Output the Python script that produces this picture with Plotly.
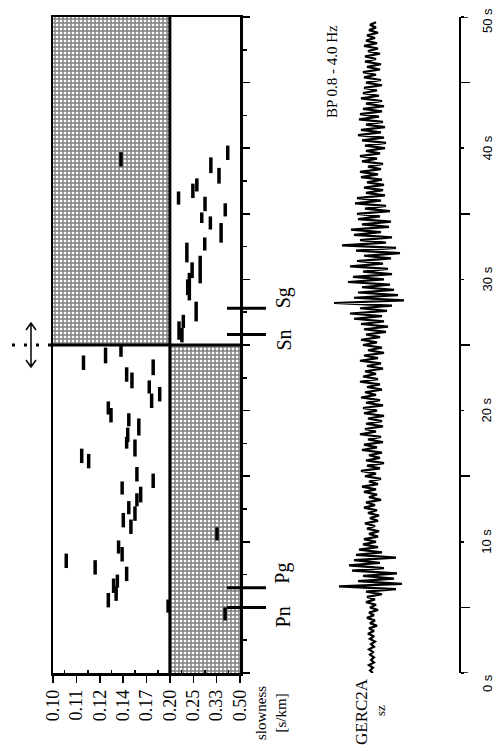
import plotly.graph_objects as go

OX, OY = 0, 0
FW, FH = 496, 751


def px(x):
    return (x - OX) / FW


def py(y):
    return 1 - (y - OY) / FH


# ---------------- data ----------------
# slowness axis: ticks at apparent velocities 10 ... 2 km/s
tick_velocity = [10, 9, 8, 7, 6, 5, 4, 3, 2]
tick_labels = ["0.10", "0.11", "0.12", "0.14", "0.17", "0.20", "0.25", "0.33", "0.50"]
minor_velocity = [9.5, 8.5, 7.5, 6.5, 5.5, 4.5, 3.5, 2.5]

# shaded (masked) windows: slowness range x time range
shade_s_lo = [0.10, 0.20]
shade_s_hi = [0.20, 0.50]
shade_t_lo = [25.0, 0.0]
shade_t_hi = [50.0, 25.0]
split_slowness = 0.20
split_time = 25.0

# detections: slowness (s/km), start time (s), end time (s)
pick_s = [0.115, 0.129, 0.141, 0.146, 0.151, 0.175, 0.170, 0.184, 0.173, 0.131,
          0.133, 0.148, 0.158, 0.147, 0.146, 0.154, 0.114, 0.118, 0.156, 0.175,
          0.142, 0.160, 0.156, 0.148, 0.154, 0.143, 0.150, 0.139, 0.142, 0.106,
          0.122, 0.146, 0.138, 0.135, 0.137, 0.131,
          0.335, 0.197, 0.379, 0.141,
          0.396, 0.308, 0.345, 0.260, 0.249, 0.216, 0.286, 0.380, 0.275, 0.306,
          0.356, 0.285, 0.234, 0.247, 0.270, 0.240, 0.236, 0.258, 0.226, 0.217, 0.223]
pick_t0 = [23.1, 23.6, 24.1, 22.2, 21.7, 22.7, 21.3, 20.7, 20.2, 19.7,
           19.1, 18.8, 18.1, 17.6, 17.1, 16.5, 16.0, 15.6, 14.6, 14.1,
           13.6, 13.0, 12.7, 12.1, 11.6, 11.1, 10.6, 9.1, 8.5, 8.0,
           7.5, 7.0, 6.5, 6.1, 5.5, 5.0,
           10.1, 4.6, 4.0, 38.6,
           39.1, 38.1, 37.3, 36.7, 36.2, 35.7, 35.2, 34.8, 34.3, 33.8,
           32.8, 32.2, 31.3, 30.1, 29.7, 28.4, 28.8, 26.8, 26.3, 25.4, 25.2]
pick_t1 = [24.2, 24.8, 25.0, 23.3, 22.9, 23.9, 22.3, 21.8, 21.3, 20.7,
           20.2, 19.8, 19.4, 18.7, 18.0, 17.8, 17.1, 16.7, 15.7, 15.2,
           14.6, 14.2, 13.7, 13.1, 12.7, 12.2, 11.7, 10.1, 9.6, 9.1,
           8.6, 8.1, 7.5, 7.2, 6.6, 6.1,
           11.1, 5.6, 5.0, 39.7,
           40.2, 39.3, 38.5, 37.7, 37.3, 36.7, 36.3, 35.8, 35.1, 34.8,
           34.3, 33.2, 32.8, 31.3, 31.8, 30.5, 30.0, 28.3, 27.3, 26.8, 26.3]

# phase onsets (s)
phase_names = ["Pn", "Pg", "Sn", "Sg"]
phase_times = [5.0, 6.5, 25.8, 27.8]

# seismogram GERC2A sz, sampled every 0.2 s (amplitude, arbitrary units)
trace_dt = 0.2
trace_amp = [
    1, -2, 1, -3, 2,   -1, 2, -2, 1, -3,   2, -1, 3, -2, 2,   -4, 2, -3, 5, -2,
    3, -5, 2, -3, 6,   -2, 4, -6, 3, -5,   10, -6, 24, -33, 30,   -14, 22, -9, 25, -20,
    12, -23, 8, -18, 24,   -16, 10, -13, 6, -9,   4, -8, 6, -3, 7,   -5, 3, -7, 6, -2,
    7, -4, 5, -8, 3,   -6, 9, -3, 5, -8,   4, -10, 6, -3, 9,   -7, 4, -11, 8, -5,
    12, -6, 8, -3, 10,   -10, 5, -8, 11, -4,   9, -12, 4, -7, 11,   -6, 10, -4, 12, -8,
    5, -9, 11, -6, 8,   -11, 4, -7, 10, -5,   8, -12, 6, -9, 4,   -7, 11, -5, 9, -12,
    6, -8, 12, -4, 10,   -9, 5, -11, 8, -6,   14, -8, 16, -11, 12,   -18, 10, -22, 15, -12,
    20, -38, 32, -18, 26,   -14, 22, -10, 18, -24,   12, -19, 20, -9, 16,   -22, 11, -15, 19, -8,
    28, -16, 24, -30, 14,   -12, 20, -18, 9, -21,   17, -10, 19, -14, 8,   -15, 18, -7, 14, -17,
    9, -15, 13, -6, 11,   -8, 12, -5, 10, -11,   6, -12, 9, -4, 11,   -10, 5, -12, 8, -6,
    13, -7, 14, -10, 12,   -14, 9, -11, 13, -6,   11, -13, 7, -12, 10,   -9, 12, -6, 10, -11,
    7, -9, 5, -8, 10,   -6, 9, -8, 4, -9,   8, -5, 9, -7, 4,   -7, 8, -4, 6, -8,
    5, -6, 3, -5, 6,   -3, 4, -2, 4,
]
trace_t = [i * trace_dt for i in range(len(trace_amp))]

# time scale bar
scale_ticks = [0, 10, 20, 30, 40, 50]
scale_labels = ["0 s", "10 s", "20 s", "30 s", "40 s", "50 s"]
scale_minor = [5, 15, 25, 35, 45]

# ---------------- figure ----------------
SERIF = "Liberation Serif"
SANS = "Liberation Sans"

fig = go.Figure()

# masked windows (cross-hatched)
v_lo = [1 / s for s in shade_s_hi]
v_hi = [1 / s for s in shade_s_lo]
fig.add_trace(go.Bar(
    x=[(a + b) / 2 for a, b in zip(v_lo, v_hi)],
    width=[b - a for a, b in zip(v_lo, v_hi)],
    base=shade_t_lo,
    y=[b - a for a, b in zip(shade_t_lo, shade_t_hi)],
    marker=dict(color="white", line=dict(width=0),
                pattern=dict(shape="+", fgcolor="black", bgcolor="white",
                             size=4, solidity=0.6)),
    hoverinfo="skip", showlegend=False,
))

# detections
xs, ys = [], []
for s, a, b in zip(pick_s, pick_t0, pick_t1):
    v = 1 / s
    xs += [v, v, None]
    ys += [a, b, None]
fig.add_trace(go.Scatter(x=xs, y=ys, mode="lines",
                         line=dict(color="black", width=3.5),
                         hoverinfo="skip", showlegend=False))

# seismogram
fig.add_trace(go.Scatter(x=trace_amp, y=trace_t, xaxis="x2", yaxis="y",
                         mode="lines", line=dict(color="black", width=2.2),
                         hoverinfo="skip", showlegend=False))

# invisible trace carrying the scale-bar axis
fig.add_trace(go.Scatter(x=[6, 6], y=[0, 50], yaxis="y2", mode="markers",
                         marker=dict(opacity=0), hoverinfo="skip", showlegend=False))

shapes = []
# split lines
shapes.append(dict(type="line", xref="x", yref="y", x0=1 / split_slowness, x1=1 / split_slowness,
                   y0=0, y1=50, line=dict(color="black", width=3)))
shapes.append(dict(type="line", xref="x", yref="y", x0=10, x1=2,
                   y0=split_time, y1=split_time, line=dict(color="black", width=3)))
# dotted marker to the left of the split
shapes.append(dict(type="line", xref="paper", yref="y", x0=px(12), x1=px(52),
                   y0=split_time, y1=split_time,
                   line=dict(color="black", width=3, dash="3px,9px")))
# double arrow
ax = px(31)
shapes.append(dict(type="path", xref="paper", yref="paper",
                   path=f"M {ax},{py(323)} L {ax},{py(367)} "
                        f"M {px(26)},{py(330)} L {ax},{py(323)} L {px(36)},{py(330)} "
                        f"M {px(26)},{py(360)} L {ax},{py(367)} L {px(36)},{py(360)}",
                   line=dict(color="black", width=1.5)))
# phase onsets
for t in phase_times:
    shapes.append(dict(type="line", xref="paper", yref="y", x0=px(227), x1=px(266),
                       y0=t, y1=t, line=dict(color="black", width=3)))
# scale-bar ends
for t in [scale_ticks[0], scale_ticks[-1]]:
    shapes.append(dict(type="line", xref="paper", yref="y", x0=px(459), x1=px(468),
                       y0=t, y1=t, line=dict(color="black", width=1.5)))

label_shift = {"Pn": -10, "Pg": 14, "Sn": -6, "Sg": 10}
scale_shift = {0: -10, 50: -4}
common = dict(showarrow=False, textangle=-90, xanchor="center", yanchor="middle")
annotations = []
for name, t in zip(phase_names, phase_times):
    annotations.append(dict(text=name, xref="paper", yref="y", x=px(283), y=t,
                            yshift=label_shift[name],
                            font=dict(family=SERIF, size=20, color="black"), **common))
for lab, t in zip(scale_labels, scale_ticks):
    annotations.append(dict(text=lab, xref="paper", yref="y", x=px(487), y=t,
                            yshift=scale_shift.get(t, 0),
                            font=dict(family=SANS, size=13, color="black"), **common))
annotations += [
    dict(text="slowness<br>[s/km]", xref="paper", yref="paper", x=px(271), y=py(713),
         font=dict(family=SERIF, size=15, color="black"), **common),
    dict(text="GERC2A", xref="paper", yref="paper", x=px(361), y=py(712),
         font=dict(family=SERIF, size=17, color="black"), **common),
    dict(text="sz", xref="paper", yref="paper", x=px(380), y=py(711),
         font=dict(family=SERIF, size=13, color="black"), **common),
    dict(text="BP 0.8 - 4.0 Hz", xref="paper", yref="paper", x=px(332), y=py(72),
         font=dict(family=SERIF, size=15, color="black"), **common),
]

fig.update_layout(
    width=FW, height=FH, margin=dict(l=0, r=0, t=0, b=0, pad=0, autoexpand=False),
    paper_bgcolor="white", plot_bgcolor="rgba(0,0,0,0)",
    barmode="overlay", showlegend=False,
    shapes=shapes, annotations=annotations,
    xaxis=dict(domain=[px(53), px(240)], range=[10, 2], anchor="y", automargin=False,
               tickmode="array", tickvals=tick_velocity, ticktext=tick_labels,
               tickangle=-90, ticks="outside", ticklen=7, tickwidth=1.5, tickcolor="black",
               minor=dict(tickmode="array", tickvals=minor_velocity, ticks="inside",
                          ticklen=3, tickwidth=1.5, tickcolor="black"),
               tickfont=dict(family=SERIF, size=18, color="black"),
               showline=True, linewidth=2.5, linecolor="black", mirror=True,
               showgrid=False, zeroline=False, fixedrange=True),
    yaxis=dict(domain=[py(673), py(17)], range=[0, 50], anchor="x", side="right",
               automargin=False,
               tickmode="linear", tick0=0, dtick=5, ticks="outside", ticklen=7,
               tickwidth=1.5, tickcolor="black", showticklabels=False,
               minor=dict(tick0=0, dtick=2.5, ticks="outside", ticklen=4,
                          tickwidth=1.5, tickcolor="black"),
               showline=True, linewidth=2.5, linecolor="black", mirror=True,
               showgrid=False, zeroline=False, fixedrange=True),
    xaxis2=dict(domain=[px(322), px(422)], range=[-50, 50], anchor="y",
                visible=False, fixedrange=True, automargin=False),
    yaxis2=dict(overlaying="y", anchor="free", position=px(459), side="right",
                automargin=False,
                range=[0, 50], tickmode="array", tickvals=scale_ticks,
                showticklabels=False,
                ticks="outside", ticklen=3, tickwidth=1.5, tickcolor="black",
                minor=dict(tickmode="array", tickvals=scale_minor, ticks="outside",
                           ticklen=9, tickwidth=1.5, tickcolor="black"),
                showline=True, linewidth=1.5, linecolor="black",
                showgrid=False, zeroline=False, fixedrange=True),
)

# remove the page's default body margin and scrollbars so the figure fills the window
page_css = ("document.documentElement.style.margin='0';"
            "document.documentElement.style.overflow='hidden';"
            "document.body.style.margin='0';"
            "document.body.style.overflow='hidden';")

fig.write_html("out.html", post_script=page_css,
               config={"displayModeBar": False, "staticPlot": True})
